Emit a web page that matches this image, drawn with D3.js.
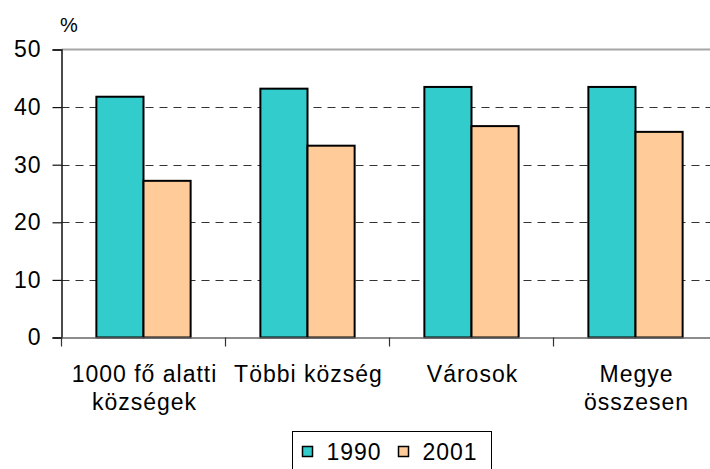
<!DOCTYPE html>
<html>
<head>
<meta charset="utf-8">
<script src="https://cdn.jsdelivr.net/npm/d3@7"></script>
<style>
  html, body { margin: 0; padding: 0; background: #fff; }
  svg { display: block; font-family: "Liberation Sans", Arial, sans-serif; }
</style>
</head>
<body>
<svg id="chart" width="710" height="469"></svg>
<script>
const categories = [["1000 fő alatti", "községek"], ["Többi község"], ["Városok"], ["Megye", "összesen"]];
const seriesNames = ["1990", "2001"];
const values1990 = [41.8, 43.2, 43.5, 43.5];
const values2001 = [27.2, 33.3, 36.7, 35.7];
const yTicks = [0, 10, 20, 30, 40, 50];
const colors = ["#33CCCC", "#FFCC99"];

(function () {
const svg = d3.select("#chart");
const mLeft = 61.5, mTop = 49.5, mBottom = 337.5, mRight = 717.5;

const catKeys = categories.map((c, i) => i);
const x0 = d3.scaleBand().domain(catKeys).range([mLeft, mRight]).padding(0);
const x1 = d3.scaleBand().domain(seriesNames).range([0, x0.bandwidth()]).paddingInner(0).paddingOuter(0.74);
const y = d3.scaleLinear().domain([0, 50]).range([mBottom, mTop]);

const seriesVals = [values1990, values2001];

// gridlines (dashed) for inner ticks
svg.append("g").selectAll("line")
  .data(yTicks.filter(t => t > 0 && t < 50))
  .join("line")
  .attr("x1", mLeft).attr("x2", 710)
  .attr("y1", d => Math.round(y(d)) + 0.5).attr("y2", d => Math.round(y(d)) + 0.5)
  .attr("stroke", "#333").attr("stroke-width", 1.2)
  .attr("stroke-dasharray", "8,6");

// top border line at 50
svg.append("line")
  .attr("x1", mLeft).attr("x2", 710)
  .attr("y1", y(50)).attr("y2", y(50))
  .attr("stroke", "#a6a6a6").attr("stroke-width", 2);

// bars
const groups = svg.append("g").selectAll("g")
  .data(catKeys)
  .join("g")
  .attr("transform", d => `translate(${x0(d)},0)`);

groups.selectAll("rect")
  .data(i => seriesNames.map((s, k) => ({ s, k, v: seriesVals[k][i] })))
  .join("rect")
  .attr("x", d => x1(d.s))
  .attr("y", d => y(d.v))
  .attr("width", x1.bandwidth())
  .attr("height", d => mBottom - y(d.v))
  .attr("fill", d => colors[d.k])
  .attr("stroke", "#000").attr("stroke-width", 2);

// y axis
const yAxis = d3.axisLeft(y).tickValues(yTicks).tickSize(9).tickPadding(12);
const yg = svg.append("g").attr("transform", `translate(${mLeft},0)`).call(yAxis);
yg.select(".domain").attr("stroke", "#111").attr("stroke-width", 1.5);
yg.selectAll(".tick line").attr("stroke", "#111").attr("stroke-width", 1.2);
yg.selectAll(".tick text")
  .attr("font-size", "23px").attr("fill", "#000")
  .attr("font-family", "Liberation Sans, Arial, sans-serif")
  .style("letter-spacing", "1px")
  .attr("dx", "1px");

// x axis
const xAxis = d3.axisBottom(x0).tickValues([]).tickSize(0);
const xg = svg.append("g").attr("transform", `translate(0,${mBottom})`).call(xAxis);
xg.select(".domain").attr("stroke", "#666").attr("stroke-width", 1.5);
// category separator ticks
svg.append("g").selectAll("line")
  .data(catKeys)
  .join("line")
  .attr("x1", d => x0(d)).attr("x2", d => x0(d))
  .attr("y1", mBottom).attr("y2", mBottom + 9)
  .attr("stroke", "#333").attr("stroke-width", 1.2);

// category labels
svg.append("g").selectAll("text")
  .data(catKeys)
  .join("text")
  .attr("x", d => x0(d) + x0.bandwidth() / 2 + 1)
  .attr("y", 382)
  .attr("text-anchor", "middle")
  .attr("font-size", "23px")
  .style("letter-spacing", "1px")
  .attr("fill", "#000")
  .each(function(d) {
    const t = d3.select(this);
    categories[d].forEach((line, li) => {
      t.append("tspan")
        .attr("x", x0(d) + x0.bandwidth() / 2 + 1)
        .attr("dy", li === 0 ? 0 : 28)
        .text(line);
    });
  });

// % label
svg.append("text")
  .attr("x", 60).attr("y", 32)
  .attr("font-size", "20px").attr("fill", "#000")
  .text("%");

// legend
const lg = svg.append("g");
lg.append("rect")
  .attr("x", 292.5).attr("y", 431.5).attr("width", 199).attr("height", 60)
  .attr("fill", "#fff").attr("stroke", "#000").attr("stroke-width", 1);
const legendX = [302.5, 398.5];
seriesNames.forEach((s, k) => {
  lg.append("rect")
    .attr("x", legendX[k]).attr("y", 446.5).attr("width", 10).attr("height", 10)
    .attr("fill", colors[k]).attr("stroke", "#000").attr("stroke-width", 1.5);
  lg.append("text")
    .attr("x", legendX[k] + 24).attr("y", 460)
    .attr("font-size", "23px").style("letter-spacing", "1px")
    .attr("fill", "#000")
    .text(s);
});
})();
</script>
</body>
</html>
